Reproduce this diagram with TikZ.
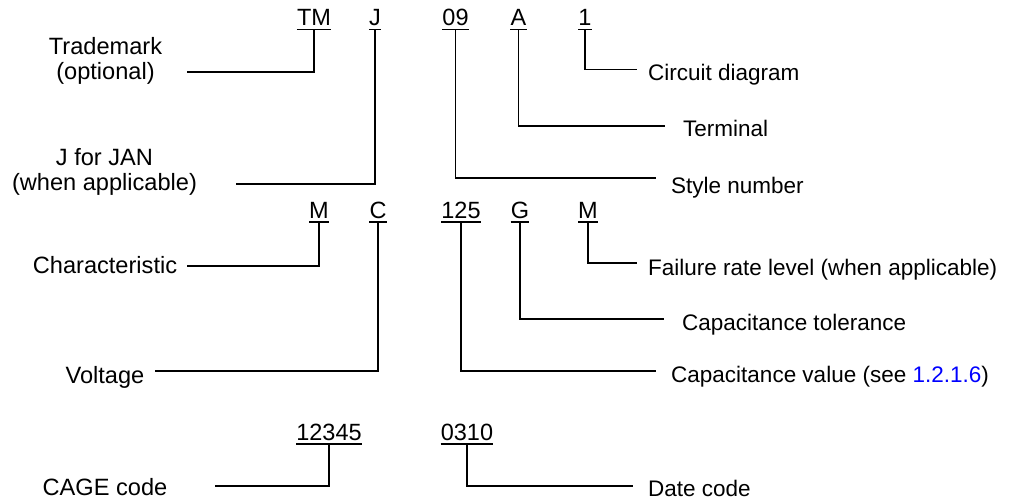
\documentclass[tikz,border=0pt]{standalone}
\usepackage{fontspec}
\setmainfont{Liberation Sans}
\begin{document}
\begin{tikzpicture}[x=1pt,y=-1pt,
  code/.style={font=\fontsize{23.5}{28}\selectfont, inner xsep=0pt, inner ysep=3.5pt, text depth=0pt, anchor=base},
  rlbl/.style={font=\fontsize{22.5}{25}\selectfont, inner sep=0pt, anchor=base west},
  llbl/.style={font=\fontsize{23.6}{25}\selectfont, inner sep=0pt, anchor=base, align=center},
  conn/.style={line width=1.6pt},
  uline/.style={line width=1.5pt}]
\useasboundingbox (0,0) rectangle (1033,500);

% codes, row 1
\node[code] (tm)   at (314,26) {TM};
\node[code] (j)    at (375,26) {J};
\node[code] (s09)  at (455.5,26) {09};
\node[code] (a)    at (518.5,26) {A};
\node[code] (one)  at (585,26) {1};
% row 2
\node[code] (m1)   at (319,218.5) {M};
\node[code] (c)    at (378,218.5) {C};
\node[code] (v125) at (461,218.5) {125};
\node[code] (g)    at (520,218.5) {G};
\node[code] (m2)   at (588,218.5) {M};
% row 3
\node[code] (cage) at (329,440.5) {12345};
\node[code] (date) at (467,440.5) {0310};

\foreach \n in {tm,j,s09,a,one,m1,c,v125,g,m2,cage,date}
  \draw[uline] (\n.south west) -- (\n.south east);

% left labels (base = last line)
\node[llbl] (ltm)   at (105.5,80) {Trademark\\(optional)};
\node[llbl] (ljan)  at (104.5,190) {J for JAN\\(when applicable)};
\node[llbl] (lchar) at (105,273) {Characteristic};
\node[llbl] (lvolt) at (105,383.5) {Voltage};
\node[llbl] (lcage) at (105,495.5) {CAGE code};

% right labels
\node[rlbl] (lcirc) at (648,80.5) {Circuit diagram};
\node[rlbl] (lterm) at (683,136.5) {Terminal};
\node[rlbl] (lstyle) at (671,193) {Style number};
\node[rlbl] (lfail) at (648,275) {Failure rate level (when applicable)};
\node[rlbl] (ltol)  at (682,330.5) {Capacitance tolerance};
\node[rlbl] (lval)  at (671,382.5) {Capacitance value (see \textcolor{blue}{1.2.1.6})};
\node[rlbl] (ldate) at (648,496.5) {Date code};

% connector ends
\coordinate (etm)   at (187,72);
\coordinate (ej)    at (236,184);
\coordinate (e09)   at (656,178);
\coordinate (ea)    at (665,126);
\coordinate (eone)  at (637,69.5);
\coordinate (em1)   at (187,266);
\coordinate (ec)    at (155,371);
\coordinate (e125)  at (656,371);
\coordinate (eg)    at (664,319);
\coordinate (em2)   at (637,263);
\coordinate (ecage) at (215,486);
\coordinate (edate) at (633,486);

\foreach \n/\e in {tm/etm,j/ej,s09/e09,a/ea,one/eone,m1/em1,c/ec,v125/e125,g/eg,m2/em2,cage/ecage,date/edate}
  \draw[conn] (\n.south) |- (\e);
\end{tikzpicture}
\end{document}
